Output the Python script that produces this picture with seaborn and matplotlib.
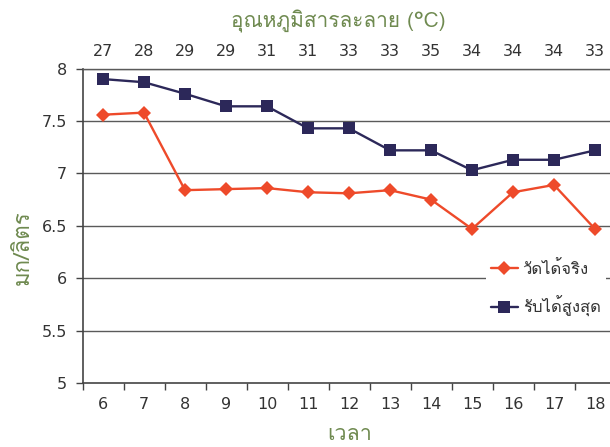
import numpy as np
import pandas as pd
import seaborn as sns
import matplotlib
matplotlib.use("Agg")
import matplotlib.pyplot as plt
from matplotlib import font_manager
from matplotlib.ft2font import FT2Font

# Hours of the day (x axis) and dissolved oxygen readings (mg/L)
hours = [6, 7, 8, 9, 10, 11, 12, 13, 14, 15, 16, 17, 18]
temperature_labels = ["27", "28", "29", "29", "31", "31", "33", "33", "35", "34", "34", "34", "33"]
measured = [7.56, 7.58, 6.84, 6.85, 6.86, 6.82, 6.81, 6.84, 6.75, 6.47, 6.82, 6.89, 6.47]
max_capacity = [7.90, 7.87, 7.76, 7.64, 7.64, 7.43, 7.43, 7.22, 7.22, 7.03, 7.13, 7.13, 7.22]
series_names = ["วัดได้จริง", "รับได้สูงสุด"]
y_ticks = [5, 5.5, 6, 6.5, 7, 7.5, 8]

RED = "#EE4A2A"
NAVY = "#2C2859"
GREEN = "#6F8A50"
TEXT = "#333333"


def find_thai_family():
    """Return the name of an installed font that has Thai glyphs."""
    for fe in font_manager.fontManager.ttflist:
        try:
            cmap = FT2Font(fe.fname).get_charmap()
        except Exception:
            continue
        if all(c in cmap for c in (0x0E27, 0x0E25, 0x0E32, 0x0E14)):
            return fe.name
    return None


sns.set_theme(style="white")
thai = find_thai_family()
families = ([thai] if thai else []) + ["DejaVu Sans"]
plt.rcParams["font.family"] = families

df = pd.DataFrame({
    "hour": hours * 2,
    "value": measured + max_capacity,
    "series": [series_names[0]] * len(hours) + [series_names[1]] * len(hours),
})

fig = plt.figure(figsize=(6.10, 4.47), dpi=100)
ax = fig.add_axes([82.5 / 610, 1 - 383 / 447, 533 / 610, (383 - 68.6) / 447])

# horizontal gridlines
for yv in y_ticks[1:]:
    ax.axhline(yv, color="#5a5a5a", lw=1.0, zorder=0)

sns.lineplot(
    data=df, x="hour", y="value", hue="series", style="series",
    palette={series_names[0]: RED, series_names[1]: NAVY},
    markers={series_names[0]: "D", series_names[1]: "s"},
    dashes=False, lw=1.7, ax=ax, zorder=3,
)
for line in ax.get_lines():
    if matplotlib.colors.to_hex(line.get_color()) == RED.lower():
        line.set_markersize(7)
    else:
        line.set_markersize(8)
    line.set_markeredgewidth(0)

ax.set_xlim(hours[0] - 0.5, hours[-1] + 0.5)
ax.set_ylim(5, 8)

# ticks between categories, labels at category centres
ax.set_xticks([h - 0.5 for h in hours] + [hours[-1] + 0.5])
ax.set_xticklabels([])
ax.set_xticks(hours, minor=True)
ax.set_xticklabels([str(h) for h in hours], minor=True, fontsize=11.5, color=TEXT,
                   family="DejaVu Sans")
ax.tick_params(axis="x", which="major", direction="out", length=5, width=1, color="#444444",
               bottom=True)
ax.tick_params(axis="x", which="minor", length=0, pad=10)

ax.set_yticks(y_ticks)
ax.set_yticklabels([f"{v:g}" for v in y_ticks], fontsize=11.5, color=TEXT, family="DejaVu Sans")
ax.tick_params(axis="y", direction="out", length=5, width=1, color="#444444", left=True, pad=6)

for side in ["left", "bottom"]:
    ax.spines[side].set_color("#444444")
    ax.spines[side].set_linewidth(1.2)
ax.spines["top"].set_color("#5a5a5a")
ax.spines["top"].set_linewidth(1.0)
ax.spines["right"].set_visible(False)

ax.set_xlabel("เวลา", fontsize=15.5, color=GREEN)
ax.xaxis.set_label_coords((350 - 82.5) / 533, -0.13)
ax.set_ylabel("มก/ลิตร", fontsize=16, color=GREEN)
ax.yaxis.set_label_coords(-(82.5 - 34) / 533, 0.43)

# temperature of the solution on the top axis
top = ax.twiny()
top.set_xlim(ax.get_xlim())
top.set_xticks(hours)
top.set_xticklabels(temperature_labels, fontsize=11.5, color=TEXT, family="DejaVu Sans")
top.tick_params(axis="x", length=0, pad=7)
for s in top.spines.values():
    s.set_visible(False)
top.set_xlabel("อุณหภูมิสารละลาย (°C)", fontsize=15, color=GREEN)
top.xaxis.set_label_coords((338 - 82.5) / 533, 1.13)

handles, labels = ax.get_legend_handles_labels()
ax.legend(handles, labels, loc="upper left", bbox_to_anchor=(486 / 610, 1 - 256 / 447),
          bbox_transform=fig.transFigure, frameon=True, facecolor="white", edgecolor="none",
          framealpha=1, fontsize=12, handlelength=1.6, labelspacing=1.1, borderpad=0.3,
          handletextpad=0.3, borderaxespad=0, labelcolor=TEXT)

fig.savefig("out.png", dpi=100)
